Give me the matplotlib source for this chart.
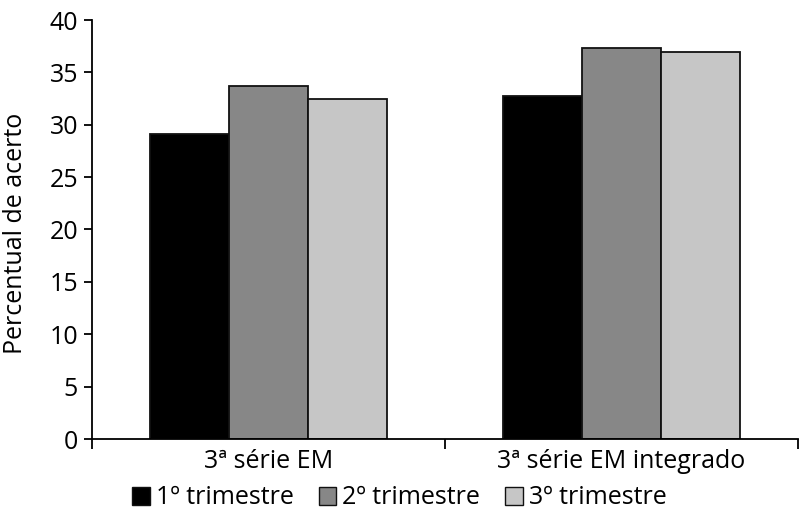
import matplotlib
matplotlib.use("Agg")
import matplotlib.pyplot as plt
import numpy as np
from matplotlib.patches import Patch

categories = ["3ª série EM", "3ª série EM integrado"]
series_names = ["1º trimestre", "2º trimestre", "3º trimestre"]
t1 = [29.1, 32.7]
t2 = [33.7, 37.3]
t3 = [32.5, 36.9]
colors = ["#000000", "#878787", "#c6c6c6"]
yticks = [0, 5, 10, 15, 20, 25, 30, 35, 40]

plt.rcParams['font.family'] = ['Open Sans', 'DejaVu Sans']
FS = 18

fig = plt.figure(figsize=(7.99, 5.11), dpi=100)
ax = fig.add_axes([92/799, 1 - 439/511, (798 - 92)/799, (439 - 20)/511])

x = np.arange(len(categories))
w = 0.224
for i, (vals, c) in enumerate(zip([t1, t2, t3], colors)):
    ax.bar(x + (i - 1) * w, vals, width=w, color=c, edgecolor="#111111", linewidth=1.3, zorder=2)

ax.set_xlim(-0.5, 1.5)
ax.set_ylim(0, 40)
ax.set_yticks(yticks)
ax.tick_params(axis='y', labelsize=FS, length=6, width=1.3, pad=4, direction='out')
ax.set_xticks(x)
ax.set_xticklabels(categories, fontsize=FS)
ax.tick_params(axis='x', length=0, pad=7)
ax.set_xticks([-0.5, 0.5, 1.5], minor=True)
ax.tick_params(axis='x', which='minor', length=7, width=1.3, direction='out')
for s in ['top', 'right']:
    ax.spines[s].set_visible(False)
for s in ['left', 'bottom']:
    ax.spines[s].set_linewidth(1.3)

fig.text(16/799, 1 - 233/511, "Percentual de acerto", rotation=90, fontsize=FS,
         ha='center', va='center')

handles = [Patch(facecolor=c, edgecolor="#111111", linewidth=1.0) for c in colors]
fig.legend(handles, series_names, loc='center', bbox_to_anchor=(0.5, 1 - 498/511), ncol=3,
           frameon=False, fontsize=FS, handlelength=0.7, handleheight=0.7,
           handletextpad=0.25, columnspacing=1.0, borderaxespad=0, borderpad=0)

fig.savefig("out.png", dpi=100)
